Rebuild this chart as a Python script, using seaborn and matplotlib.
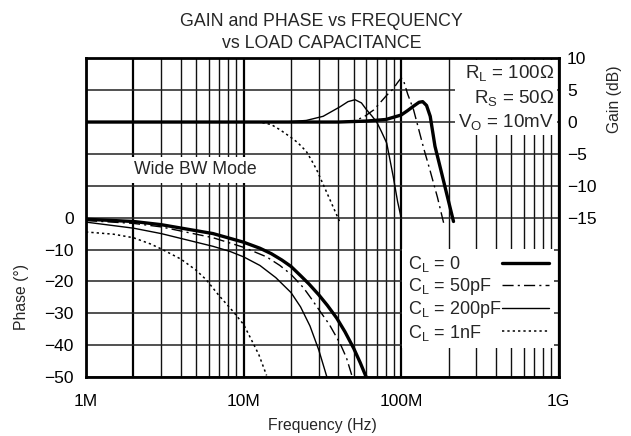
import numpy as np
import matplotlib
matplotlib.use('Agg')
import matplotlib.pyplot as plt
import seaborn as sns
from matplotlib.ticker import FixedLocator, LogLocator, NullFormatter

# Frequencies in MHz
# Gain (dB) curves
gain_f_0 = [1, 40, 60, 80, 100, 110, 120, 130, 137, 145, 153, 164, 177, 190, 215]
gain_0 = [0, 0, 0.15, 0.4, 1.1, 1.8, 2.5, 3.1, 3.2, 2.6, 0.9, -3.8, -7.1, -10.2, -15.6]

gain_f_50 = [1, 40, 50, 58, 67, 81, 89, 95, 100, 103, 110, 120, 139, 153, 170, 186]
gain_50 = [0, 0, 0.15, 0.8, 1.9, 4.2, 5.2, 6.2, 6.9, 6.7, 4.4, 1.9, -4.1, -7.7, -11.8, -15.8]

gain_f_200 = [1, 18, 25, 32, 41, 46, 51, 56, 60, 65, 70, 75, 81, 89, 95, 100]
gain_200 = [0, 0, 0.25, 0.9, 2.4, 3.2, 3.5, 3.0, 2.0, 1.0, 0.0, -1.5, -3.3, -8.5, -12.5, -15.0]

gain_f_1n = [1, 10, 12.7, 15, 17, 19.7, 22, 25, 27, 29, 33.8, 41]
gain_1n = [0, 0, 0, -0.4, -1.2, -2.3, -3.2, -4.6, -6.0, -7.4, -11.1, -15.8]

# Phase (deg) curves
phase_f_0 = [1, 2, 3, 6.4, 10, 12.7, 15, 17.5, 20, 23, 26, 30, 34, 39, 44, 50, 55, 60]
phase_0 = [-0.5, -1.2, -2.2, -5.0, -7.7, -9.6, -11.3, -13.3, -15.3, -18.2, -20.8,
           -24.2, -27.5, -31.5, -35.8, -41, -45.5, -50]

phase_f_50 = [1, 2, 3, 6.4, 10, 14, 17, 20, 24, 27, 30, 35, 41, 45, 49]
phase_50 = [-0.9, -1.8, -2.9, -6.3, -9.3, -12.3, -15, -17.8, -22, -25.5, -28.8,
            -33.5, -39.5, -44, -50]

phase_f_200 = [1, 2, 3, 6.4, 8.2, 10, 12.7, 16, 20, 23, 26.4, 30, 33.8]
phase_200 = [-1.4, -3.3, -5.0, -9.0, -10.6, -12.3, -15, -18.8, -23.5, -28, -34, -41.5, -50]

phase_f_1n = [1, 1.5, 2, 2.55, 3, 4, 5, 5.8, 7, 8.6, 10, 11, 12.5, 14]
phase_1n = [-4.5, -5.2, -6.3, -8.2, -9.8, -13, -16.5, -19.5, -24.5, -29.5, -33.5, -37.5, -43, -49.5]

labels = ['C$_L$ = 0', 'C$_L$ = 50pF', 'C$_L$ = 200pF', 'C$_L$ = 1nF']

sns.set_style('white')
plt.rcParams['font.family'] = ['Liberation Sans', 'DejaVu Sans']
plt.rcParams['mathtext.default'] = 'regular'
plt.rcParams['font.size'] = 11

styles = [
    dict(linewidth=2.4, linestyle='-'),
    dict(linewidth=1.0, linestyle=(0, (8, 3, 1.5, 3))),
    dict(linewidth=1.0, linestyle='-'),
    dict(linewidth=1.1, linestyle=(0, (1.5, 2))),
]

fig = plt.figure(figsize=(6.31, 4.36), dpi=100)
ax = fig.add_axes([0.1363, 0.1353, 0.7491, 0.7310])
ax2 = ax.twinx()

phase_sets = [(phase_f_0, phase_0), (phase_f_50, phase_50),
              (phase_f_200, phase_200), (phase_f_1n, phase_1n)]
gain_sets = [(gain_f_0, gain_0), (gain_f_50, gain_50),
             (gain_f_200, gain_200), (gain_f_1n, gain_1n)]

handles = []
for (f, p), st, lab in zip(phase_sets, styles, labels):
    sns.lineplot(x=np.array(f) * 1e6, y=p, ax=ax, color='black', sort=False,
                 estimator=None, legend=False, **st)
    ln = ax.get_lines()[-1]
    ln.set_linestyle(st['linestyle'])
    ln.set_label(lab)
    handles.append(ln)

for (f, g), st in zip(gain_sets, styles):
    sns.lineplot(x=np.array(f) * 1e6, y=g, ax=ax2, color='black', sort=False,
                 estimator=None, legend=False, **st)
    ax2.get_lines()[-1].set_linestyle(st['linestyle'])

ax.set_xscale('log')
ax.set_xlim(1e6, 1e9)
ax.set_ylim(-50, 50)
ax2.set_ylim(-40, 10)

ax.xaxis.set_major_locator(FixedLocator([1e6, 1e7, 1e8, 1e9]))
ax.set_xticklabels(['1M', '10M', '100M', '1G'])
ax.xaxis.set_minor_locator(LogLocator(base=10, subs=np.arange(2, 10)))
ax.xaxis.set_minor_formatter(NullFormatter())

yt = list(range(-50, 60, 10))
ax.set_yticks(yt)
ax.set_yticklabels([(str(v).replace('-', '\u2212') if v <= 0 else '') for v in yt])
gt = [-15, -10, -5, 0, 5, 10]
ax2.set_yticks(gt)
ax2.set_yticklabels([str(v).replace('-', '\u2212') for v in gt])

ax.grid(True, which='major', axis='x', color='black', linewidth=1.6)
ax.grid(True, which='minor', axis='x', color='#111111', linewidth=1.0)
ax.grid(True, which='major', axis='y', color='#222222', linewidth=1.1)
# the 2M line is drawn heavy in the original
for loc, t in zip(ax.xaxis.get_minorticklocs(), ax.xaxis.get_minor_ticks()):
    if abs(loc - 2e6) < 1:
        t.gridline.set_linewidth(1.6)
        t.gridline.set_color('black')

ax.tick_params(axis='both', which='both', length=0, labelsize=12.5, colors='black')
ax.tick_params(axis='y', pad=9)
ax.tick_params(axis='x', pad=12)
ax2.tick_params(axis='y', length=0, labelsize=12.5, pad=6, colors='black')

for sp in ax.spines.values():
    sp.set_linewidth(2)
    sp.set_color('black')
for sp in ax2.spines.values():
    sp.set_visible(False)

ax.set_xlabel('Frequency (Hz)', fontsize=11.3, labelpad=7)
ax.set_ylabel('Phase (\u00b0)', fontsize=11.3)
ax.yaxis.set_label_coords(-0.12, 0.25)
ax2.set_ylabel('Gain (dB)', fontsize=11.3, rotation=90)
ax2.yaxis.set_label_coords(1.103, 0.87)

fig.suptitle('GAIN and PHASE vs FREQUENCY\nvs LOAD CAPACITANCE', x=0.51, y=0.97,
             fontsize=12.8, linespacing=1.4)

ax2.text(0.232, 0.65, 'Wide BW Mode', transform=ax.transAxes, ha='center', va='center',
         fontsize=12.7, bbox=dict(boxstyle='square,pad=0.25', facecolor='white', edgecolor='none'),
         zorder=5)
ax2.text(0.99, 0.985, 'R$_L$ = 100\u03a9\nR$_S$ = 50\u03a9\nV$_O$ = 10mV',
         transform=ax.transAxes, ha='right', va='top', fontsize=13.5, linespacing=1.3,
         bbox=dict(boxstyle='square,pad=0.15', facecolor='white', edgecolor='none'),
         zorder=5)

leg = ax2.legend(handles=handles, loc='lower right', bbox_to_anchor=(0.99, 0.091),
                 borderaxespad=0, markerfirst=False, fancybox=False, framealpha=1,
                 facecolor='white', edgecolor='none', fontsize=13, handlelength=2.6,
                 handletextpad=0.1, labelspacing=0.12, borderpad=0.3)
# labels flush left, sample lines in a column on the right
for col in leg._legend_handle_box.get_children():
    col.align = 'left'
    col.width = 141
    for row in col.get_children():
        row.mode = 'expand'
leg.set_zorder(6)

fig.savefig('out.png', dpi=100)
